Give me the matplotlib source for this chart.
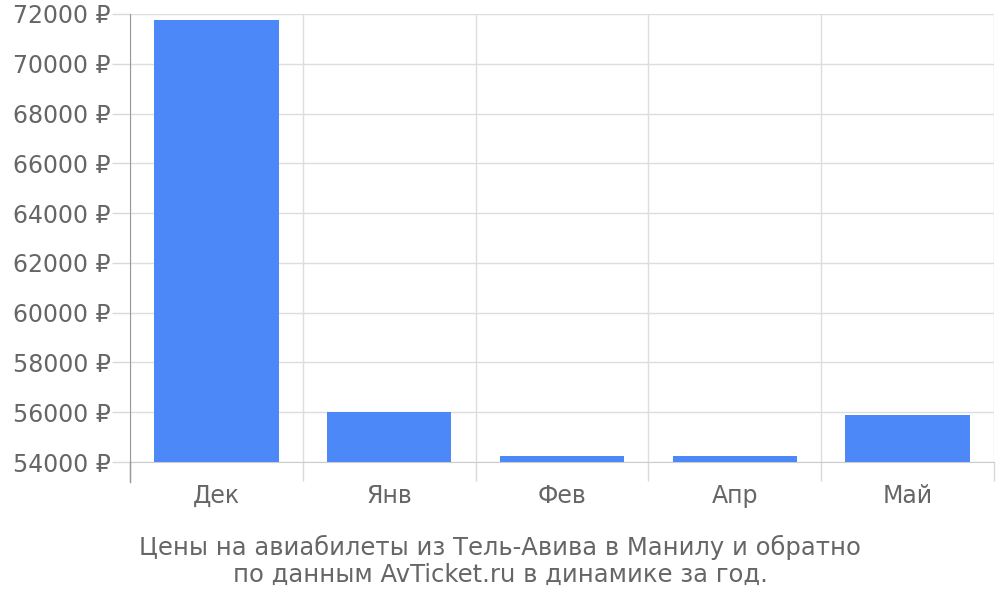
import matplotlib
matplotlib.use("Agg")
import matplotlib.pyplot as plt
import numpy as np

categories = ["Дек", "Янв", "Фев", "Апр", "Май"]
prices = [71760, 55990, 54230, 54230, 55870]
y_ticks = list(range(54000, 72001, 2000))
title = "Цены на авиабилеты из Тель-Авива в Манилу и обратно\nпо данным AvTicket.ru в динамике за год."

plt.rcParams['font.family'] = ['DejaVu Sans']
fig = plt.figure(figsize=(10, 6), dpi=100)
ax = fig.add_axes([0.13, 0.23, 0.864, 448/600])

x = np.arange(len(categories))
ymin = 54000
ax.bar(x, np.array(prices) - ymin, bottom=ymin, width=0.72, color='#4d88f9', zorder=3)

ax.set_xlim(-0.5, len(categories) - 0.5)
ax.set_ylim(54000, 72000)
ax.set_yticks(y_ticks)
ax.set_yticklabels([f"{v} ₽" for v in y_ticks])
ax.set_xticks(x)
ax.set_xticklabels(categories)
ax.set_xticks(np.arange(-0.5, len(categories)), minor=True)

ax.tick_params(axis='x', which='major', length=0, pad=16, labelsize=17, labelcolor='#666666')
ax.tick_params(axis='x', which='minor', length=14, width=1, color='#d9d9d9')
ax.tick_params(axis='y', which='major', length=13, width=1, color='#d9d9d9', pad=1,
               labelsize=17, labelcolor='#666666')

ax.grid(True, axis='y', which='major', color='#dddddd', linewidth=1, zorder=0)
ax.grid(True, axis='x', which='minor', color='#dddddd', linewidth=1, zorder=0)

for s in ['top', 'right']:
    ax.spines[s].set_visible(False)
ax.spines['left'].set_color('#999999')
ax.spines['left'].set_bounds(54000, 72000)
ax.spines['bottom'].set_color('#cccccc')
ax.plot([-0.5, -0.5], [0, -0.045], transform=ax.get_xaxis_transform(), color='#999999',
        linewidth=1, clip_on=False, zorder=4)

fig.text(0.5, 0.065, title, ha='center', va='center', fontsize=17.5, color='#666666', linespacing=1.15)

fig.savefig("out.png", dpi=100)
